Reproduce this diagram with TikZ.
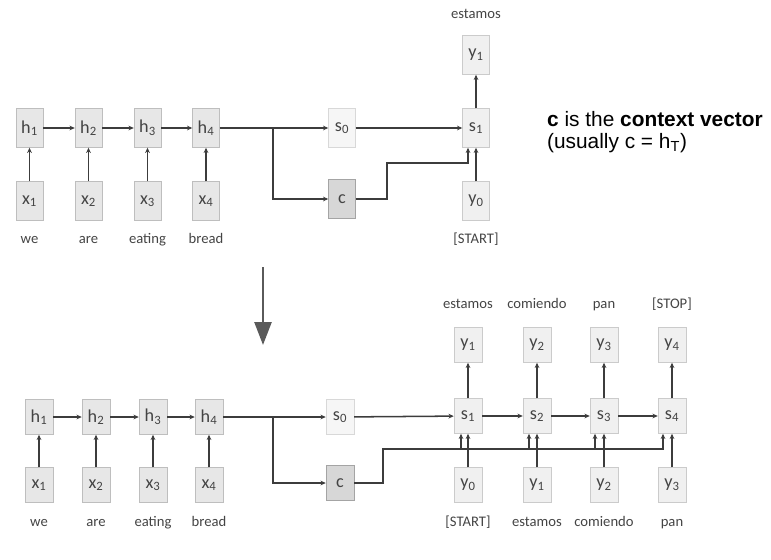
\documentclass[tikz,border=0pt]{standalone}
\usepackage{fontspec}
\setmainfont{Carlito}
\newfontfamily\arialf{Liberation Sans}
\usepackage{xcolor}
\usepackage{tikz}
\usetikzlibrary{positioning,arrows.meta,calc}
\definecolor{cborde}{HTML}{BEBEBE}
\definecolor{crelleno}{HTML}{E7E7E7}
\definecolor{cclaro}{HTML}{F0F0F0}
\definecolor{cmuyclaro}{HTML}{F6F6F6}
\definecolor{coscuro}{HTML}{D7D7D7}
\definecolor{ctexto}{HTML}{444444}
\definecolor{clinea}{HTML}{3C3C3C}
\definecolor{cflecha}{HTML}{5A5A5A}
\tikzset{
  caja/.style={rectangle, draw=cborde, fill=crelleno, inner sep=0pt,
    minimum width=0.81cm, minimum height=1.17cm, text=ctexto,
    font=\fontsize{15.5}{17}\selectfont},
  cajal/.style={caja, fill=cclaro, draw=cborde!80},
  cajas/.style={caja, fill=cmuyclaro, draw=cborde!60},
  cajac/.style={caja, fill=coscuro, draw=cborde!140},
  bajo/.style={minimum width=0.84cm, minimum height=1.05cm},
  flecha/.style={-{Stealth[length=4.5pt,width=4pt]}, line width=1.3pt, draw=clinea},
  etq/.style={font=\fontsize{12.5}{14}\selectfont, text=ctexto,
    text height=1.6ex, text depth=0.3ex, inner sep=0pt},
}
\begin{document}
\begin{tikzpicture}[x=0.03cm, y=-0.03cm]
  \useasboundingbox (0,0) rectangle (771,560);
  % encoder / decoder (arriba)
  \node[caja] (h1) at (29.5,128) {h\textsubscript{1}};
  \node[caja] (h2) at (88.5,128) {h\textsubscript{2}};
  \node[caja] (h3) at (147.5,128) {h\textsubscript{3}};
  \node[caja] (h4) at (206,128) {h\textsubscript{4}};
  \node[caja] (x1) at (29.5,201) {x\textsubscript{1}};
  \node[caja] (x2) at (88.5,201) {x\textsubscript{2}};
  \node[caja] (x3) at (147.5,201) {x\textsubscript{3}};
  \node[caja] (x4) at (206,201) {x\textsubscript{4}};
  \node[etq] (w1) at (29.5,240) {we};
  \node[etq] (w2) at (88.5,240) {are};
  \node[etq] (w3) at (147.5,240) {eating};
  \node[etq] (w4) at (206,240) {bread};
  \node[cajas] (s0) at (342,128) {s\textsubscript{0}};
  \node[cajac] (c) at (342,199) {c};
  \node[cajal] (s1) at (476,128) {s\textsubscript{1}};
  \node[cajal] (y1) at (476,55) {y\textsubscript{1}};
  \node[cajal] (y0) at (476,201) {y\textsubscript{0}};
  \node[etq] (o1) at (476,15) {estamos};
  \node[etq] (i0) at (476,240) {[START]};
  \node[anchor=west, align=left, text=black, font=\arialf\fontsize{17.8}{18.5}\selectfont]
    (nota) at (543,132) {\textbf{c} is the \textbf{context vector}\\(usually c = h\textsubscript{T})};
  \coordinate (ramaA) at (273,128);
  \coordinate (codoA) at (387,163);
  \coordinate (eA) at ($(s1.south)+(-8,0)$);
  \draw[flecha] (x1) -- (h1);
  \draw[flecha] (x2) -- (h2);
  \draw[flecha] (x3) -- (h3);
  \draw[flecha] (x4) -- (h4);
  \draw[flecha] (h1) -- (h2);
  \draw[flecha] (h2) -- (h3);
  \draw[flecha] (h3) -- (h4);
  \draw[flecha] (h4) -- (s0);
  \draw[flecha] (ramaA) |- (c);
  \draw[flecha] (s0) -- (s1);
  \draw[flecha] (c) -| (codoA) -| (eA);
  \draw[flecha] (y0) -- (s1);
  \draw[flecha] (s1) -- (y1);
  % flecha grande
  \coordinate (flA) at (263,267);
  \coordinate (flB) at (263,345);
  \draw[-{Triangle[length=0.69cm,width=0.51cm]}, line width=2.2pt, draw=cflecha, fill=cflecha] (flA) -- (flB);
  % encoder / decoder (abajo)
  \node[caja, bajo] (hb1) at (39,417) {h\textsubscript{1}};
  \node[caja, bajo] (hb2) at (96,417) {h\textsubscript{2}};
  \node[caja, bajo] (hb3) at (153,417) {h\textsubscript{3}};
  \node[caja, bajo] (hb4) at (209,417) {h\textsubscript{4}};
  \node[caja, bajo] (xb1) at (39,485) {x\textsubscript{1}};
  \node[caja, bajo] (xb2) at (96,485) {x\textsubscript{2}};
  \node[caja, bajo] (xb3) at (153,485) {x\textsubscript{3}};
  \node[caja, bajo] (xb4) at (209,485) {x\textsubscript{4}};
  \node[etq] (wb1) at (39,523) {we};
  \node[etq] (wb2) at (96,523) {are};
  \node[etq] (wb3) at (153,523) {eating};
  \node[etq] (wb4) at (209,523) {bread};
  \node[cajas, bajo] (sb0) at (340,417) {s\textsubscript{0}};
  \node[cajac, bajo] (cb) at (340,483) {c};
  \node[cajal, bajo] (sb1) at (468,416) {s\textsubscript{1}};
  \node[cajal, bajo] (sb2) at (537,416) {s\textsubscript{2}};
  \node[cajal, bajo] (sb3) at (604,416) {s\textsubscript{3}};
  \node[cajal, bajo] (sb4) at (672,416) {s\textsubscript{4}};
  \node[cajal, bajo] (yt1) at (468,345) {y\textsubscript{1}};
  \node[cajal, bajo] (yt2) at (537,345) {y\textsubscript{2}};
  \node[cajal, bajo] (yt3) at (604,345) {y\textsubscript{3}};
  \node[cajal, bajo] (yt4) at (672,345) {y\textsubscript{4}};
  \node[cajal, bajo] (yb0) at (468,485) {y\textsubscript{0}};
  \node[cajal, bajo] (yb1) at (537,485) {y\textsubscript{1}};
  \node[cajal, bajo] (yb2) at (604,485) {y\textsubscript{2}};
  \node[cajal, bajo] (yb3) at (672,485) {y\textsubscript{3}};
  \node[etq] (ot1) at (468,305) {estamos};
  \node[etq] (ot2) at (537,305) {comiendo};
  \node[etq] (ot3) at (604,305) {pan};
  \node[etq] (ot4) at (672,305) {[STOP]};
  \node[etq] (ib0) at (468,523) {[START]};
  \node[etq] (ib1) at (537,523) {estamos};
  \node[etq] (ib2) at (604,523) {comiendo};
  \node[etq] (ib3) at (672,523) {pan};
  \coordinate (ramaB) at (273,417);
  \coordinate (codoB) at (383,449);
  \coordinate (eB1) at ($(sb1.south)+(-7,0)$);
  \coordinate (eB2) at ($(sb2.south)+(-8,0)$);
  \coordinate (eB3) at ($(sb3.south)+(-9,0)$);
  \coordinate (eB4) at ($(sb4.south)+(-9,0)$);
  \draw[flecha] (xb1) -- (hb1);
  \draw[flecha] (xb2) -- (hb2);
  \draw[flecha] (xb3) -- (hb3);
  \draw[flecha] (xb4) -- (hb4);
  \draw[flecha] (hb1) -- (hb2);
  \draw[flecha] (hb2) -- (hb3);
  \draw[flecha] (hb3) -- (hb4);
  \draw[flecha] (hb4) -- (sb0);
  \draw[flecha] (ramaB) |- (cb);
  \draw[flecha] (sb0) -- (sb1);
  \draw[flecha] (sb1) -- (sb2);
  \draw[flecha] (sb2) -- (sb3);
  \draw[flecha] (sb3) -- (sb4);
  \draw[flecha] (cb) -| (codoB) -| (eB4);
  \draw[flecha] (eB1 |- codoB) -- (eB1);
  \draw[flecha] (eB2 |- codoB) -- (eB2);
  \draw[flecha] (eB3 |- codoB) -- (eB3);
  \draw[flecha] (yb0) -- (sb1);
  \draw[flecha] (yb1) -- (sb2);
  \draw[flecha] (yb2) -- (sb3);
  \draw[flecha] (yb3) -- (sb4);
  \draw[flecha] (sb1) -- (yt1);
  \draw[flecha] (sb2) -- (yt2);
  \draw[flecha] (sb3) -- (yt3);
  \draw[flecha] (sb4) -- (yt4);
\end{tikzpicture}
\end{document}
